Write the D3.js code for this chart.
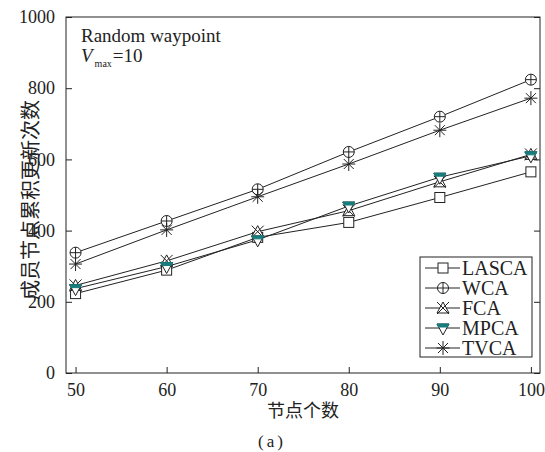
<!DOCTYPE html>
<html>
<head>
<meta charset="utf-8">
<script src="https://cdn.jsdelivr.net/npm/d3@7"></script>
<style>
  body { margin: 0; background: #fff; }
  text { font-family: "Liberation Serif", serif; fill: #222; }
  .cjk { font-family: "Noto Sans CJK SC", sans-serif; }
</style>
</head>
<body>
<div class="canvas"></div>
<script>
// data
const nodes = [50, 60, 70, 80, 90, 100]
const lasca = [223, 289, 381, 423, 493, 565]
const wca   = [338, 427, 516, 621, 720, 824]
const fca   = [246, 315, 397, 456, 537, 614]
const mpca  = [237, 299, 374, 469, 550, 610]
const tvca  = [306, 402, 495, 587, 682, 772]
const yTicks = [0, 200, 400, 600, 800, 1000]

const series = [
  { name: 'LASCA', values: lasca, marker: 'square' },
  { name: 'WCA', values: wca, marker: 'circleplus' },
  { name: 'FCA', values: fca, marker: 'xtri' },
  { name: 'MPCA', values: mpca, marker: 'downtri' },
  { name: 'TVCA', values: tvca, marker: 'asterisk' }
]

const W = 545, H = 452
const box = { left: 66, right: 540, top: 17, bottom: 373 }
const ink = '#222'
const teal = '#197c7c'

const svg = d3.select('.canvas').append('svg')
  .attr('width', W).attr('height', H)

const x = d3.scaleLinear().domain([48.95, 101]).range([box.left, box.right])
const y = d3.scaleLinear().domain([0, 1000]).range([box.bottom, box.top])

// frame
svg.append('rect')
  .attr('x', box.left).attr('y', box.top)
  .attr('width', box.right - box.left).attr('height', box.bottom - box.top)
  .attr('fill', 'none').attr('stroke', ink).attr('stroke-width', 1)

// axes with inward ticks
const xAxis = svg.append('g')
  .attr('transform', `translate(0, ${box.bottom})`)
  .call(d3.axisBottom(x).tickValues(nodes).tickSizeInner(-6).tickSizeOuter(0).tickPadding(12))
const yAxis = svg.append('g')
  .attr('transform', `translate(${box.left}, 0)`)
  .call(d3.axisLeft(y).tickValues(yTicks).tickFormat(d3.format('d'))
    .tickSizeInner(-6).tickSizeOuter(0).tickPadding(11))
const yRight = svg.append('g')
  .attr('transform', `translate(${box.right}, 0)`)
  .call(d3.axisRight(y).tickValues(yTicks).tickSizeInner(-6).tickSizeOuter(0).tickFormat(''))

svg.selectAll('.domain').remove()
svg.selectAll('.tick line').attr('stroke', ink)
svg.selectAll('.tick text')
  .style('font-family', '"Liberation Serif", serif')
  .style('font-size', '18px').attr('fill', ink)
xAxis.selectAll('.tick text').attr('dy', '0.62em')

// marker drawing
const drawMarker = (g, type) => {
  if (type === 'square') {
    g.append('rect').attr('x', -5).attr('y', -5).attr('width', 10).attr('height', 10)
      .attr('fill', '#fff').attr('stroke', ink)
  } else if (type === 'circleplus') {
    g.append('circle').attr('r', 5.5).attr('fill', '#fff').attr('stroke', ink)
    g.append('path').attr('d', 'M-5.5,0H5.5M0,-5.5V5.5').attr('stroke', ink)
  } else if (type === 'xtri') {
    g.append('path').attr('d', 'M0,-6L6,5H-6Z').attr('fill', '#fff').attr('stroke', ink)
    g.append('path').attr('d', 'M-6,-6L6,6M6,-6L-6,6').attr('stroke', ink)
  } else if (type === 'downtri') {
    g.append('path').attr('d', 'M-6,-4H6L0,7Z').attr('fill', '#fff').attr('stroke', ink)
    g.append('path').attr('d', 'M-6,-4H6L4.4,-1H-4.4Z').attr('fill', teal).attr('stroke', teal)
  } else if (type === 'asterisk') {
    g.append('path')
      .attr('d', 'M0,-7V7M-6.5,0H6.5M-5,-5L5,5M5,-5L-5,5')
      .attr('stroke', ink)
  }
}

const line = d3.line()
  .x((d, i) => x(nodes[i]))
  .y(d => y(d))

const graph = svg.append('g')

graph.selectAll('path.series')
  .data(series)
  .enter().append('path')
    .attr('class', 'series')
    .attr('d', d => line(d.values))
    .attr('fill', 'none')
    .attr('stroke', ink)
    .attr('stroke-width', 1)

series.forEach(s => {
  s.values.forEach((v, i) => {
    const g = graph.append('g').attr('transform', `translate(${x(nodes[i])}, ${y(v)})`)
    drawMarker(g, s.marker)
  })
})

// legend
const legend = svg.append('g')
legend.append('rect')
  .attr('x', 420).attr('y', 257).attr('width', 112).attr('height', 100)
  .attr('fill', '#fff').attr('stroke', ink)

series.forEach((s, i) => {
  const ly = 268 + i * 20
  const row = legend.append('g').attr('transform', `translate(0, ${ly})`)
  row.append('line').attr('x1', 425).attr('x2', 460).attr('y1', 0).attr('y2', 0).attr('stroke', ink)
  drawMarker(row.append('g').attr('transform', 'translate(443, 0)'), s.marker)
  row.append('text').attr('x', 462).attr('y', 7).attr('font-size', 20).text(s.name)
})

// annotation
svg.append('text').attr('x', 81).attr('y', 42).attr('font-size', 19).text('Random waypoint')
const vt = svg.append('text').attr('x', 81).attr('y', 62).attr('font-size', 19)
vt.append('tspan').attr('font-style', 'italic').text('V')
vt.append('tspan').attr('font-size', 10).attr('dy', 5).attr('dx', 2).text('max')
vt.append('tspan').attr('dy', -5).attr('dx', 1).text('=10')

// axis titles
svg.append('text')
  .attr('class', 'cjk')
  .attr('transform', 'translate(38, 200) rotate(-90)')
  .attr('text-anchor', 'middle')
  .attr('font-size', 20)
  .text('成员节点累积更新次数')

svg.append('text')
  .attr('class', 'cjk')
  .attr('x', 303).attr('y', 417)
  .attr('text-anchor', 'middle')
  .attr('font-size', 18)
  .text('节点个数')

svg.append('text')
  .attr('x', 272).attr('y', 447)
  .attr('text-anchor', 'middle')
  .attr('font-size', 17)
  .attr('letter-spacing', 3)
  .text('(a)')
</script>
</body>
</html>
